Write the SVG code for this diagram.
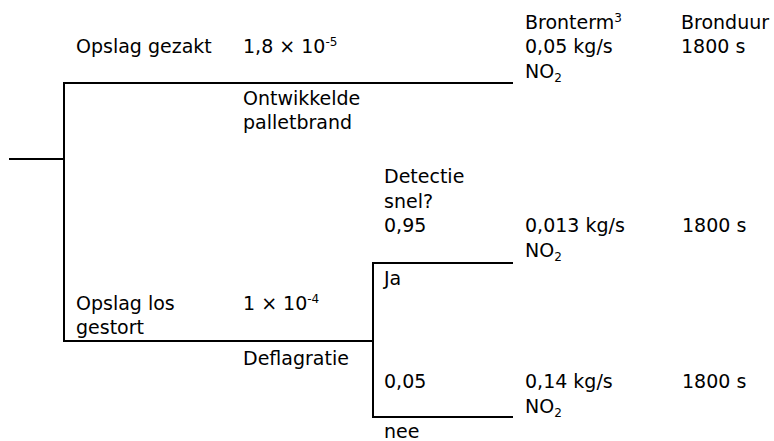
<svg xmlns="http://www.w3.org/2000/svg" width="774" height="441" viewBox="0 0 774 441">
<style>
text{font-family:"DejaVu Sans",Verdana,sans-serif;font-size:19px;fill:#000}
.sup{font-size:12px}
.conn{fill:none;stroke:#000;stroke-width:2;stroke-linecap:square}
</style>
<rect width="774" height="441" fill="#fff"/>
<g id="connectors">
<path class="conn" d="M10,159 H64"/>
<path class="conn" d="M512,83 H64 V341 H373"/>
<path class="conn" d="M512,263 H373 V417 H512"/>
</g>
<g id="header">
<text x="525" y="29">Bronterm<tspan class="sup" dy="-7">3</tspan></text>
<text x="681" y="29">Bronduur</text>
</g>
<g id="opslag-gezakt">
<text x="76" y="53">Opslag gezakt</text>
<text x="243" y="53">1,8 × 10<tspan class="sup" dy="-7">-5</tspan></text>
<text x="243" y="105">Ontwikkelde</text>
<text x="243" y="129">palletbrand</text>
</g>
<g id="outcome-palletbrand">
<text x="525" y="53">0,05 kg/s</text>
<text x="525" y="78">NO<tspan class="sup" dy="4">2</tspan></text>
<text x="681" y="53">1800 s</text>
</g>
<g id="opslag-los">
<text x="76" y="310">Opslag los</text>
<text x="76" y="334">gestort</text>
<text x="243" y="310">1 × 10<tspan class="sup" dy="-7">-4</tspan></text>
<text x="243" y="365">Deflagratie</text>
</g>
<g id="detectie">
<text x="384" y="183">Detectie</text>
<text x="384" y="208">snel?</text>
<text x="384" y="232">0,95</text>
<text x="384" y="285">Ja</text>
<text x="384" y="388">0,05</text>
<text x="384" y="438">nee</text>
</g>
<g id="outcome-ja">
<text x="525" y="232">0,013 kg/s</text>
<text x="525" y="257">NO<tspan class="sup" dy="4">2</tspan></text>
<text x="682" y="232">1800 s</text>
</g>
<g id="outcome-nee">
<text x="525" y="388">0,14 kg/s</text>
<text x="525" y="413">NO<tspan class="sup" dy="4">2</tspan></text>
<text x="682" y="388">1800 s</text>
</g>
</svg>
